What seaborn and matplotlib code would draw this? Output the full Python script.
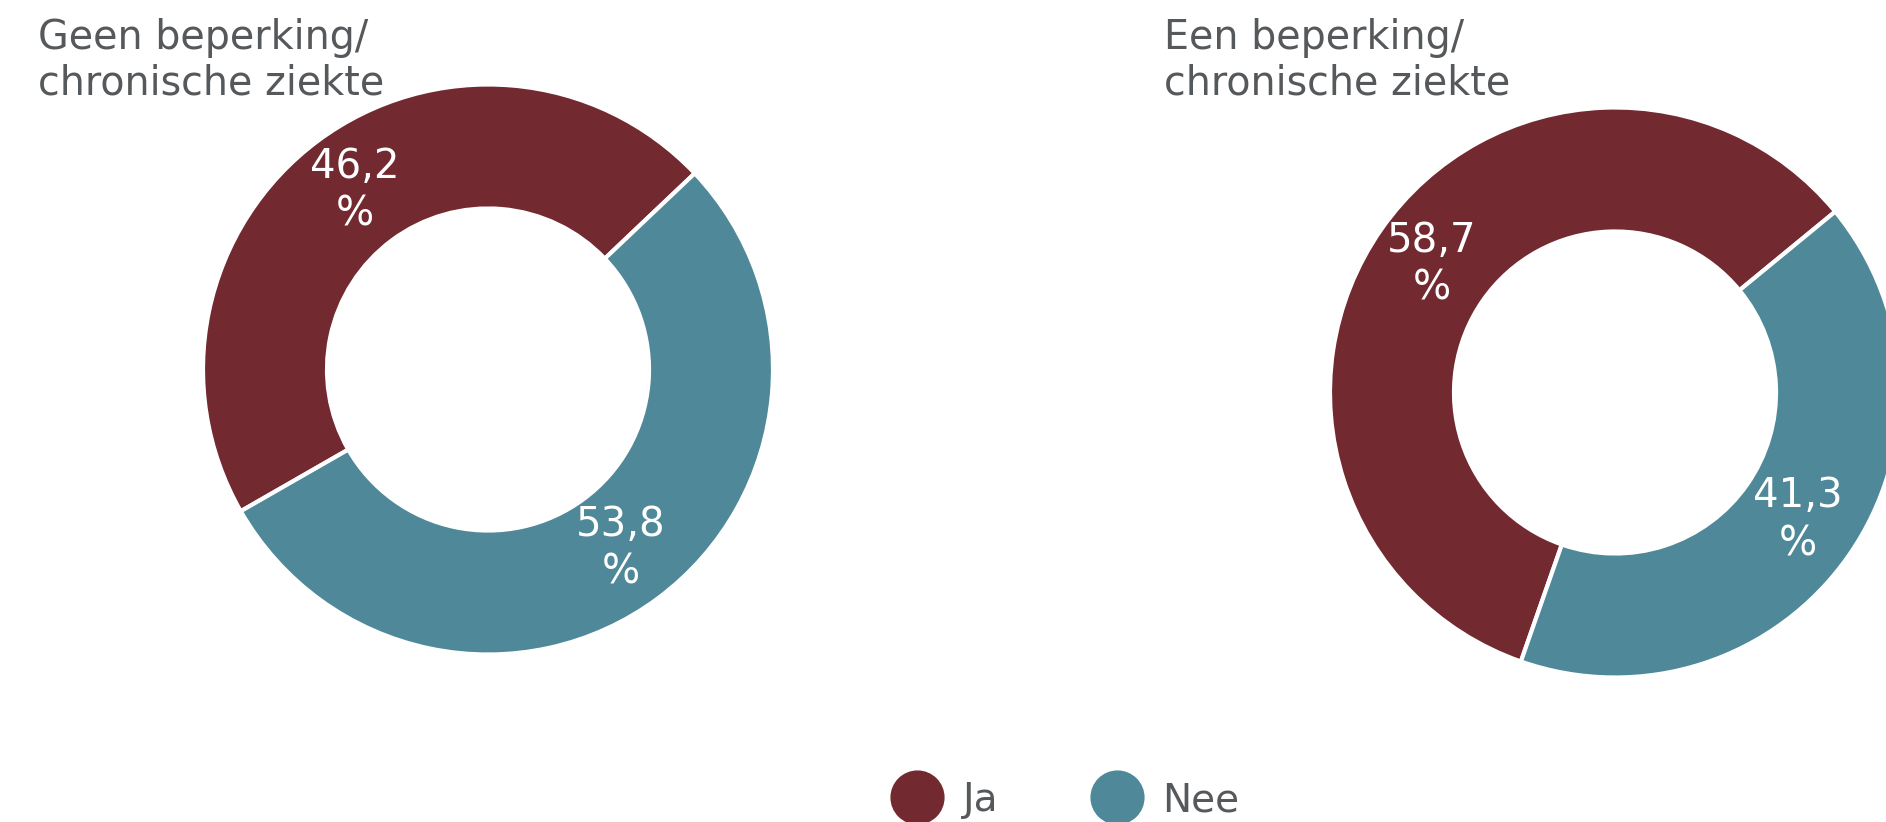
import matplotlib
matplotlib.use("Agg")
import matplotlib.pyplot as plt
from matplotlib.lines import Line2D
import seaborn as sns

# Share of respondents answering "Ja" / "Nee", per group
groups = ["Geen beperking/\nchronische ziekte", "Een beperking/\nchronische ziekte"]
answers = ["Ja", "Nee"]
ja_pct = [46.2, 58.7]
nee_pct = [53.8, 41.3]
colors = ["#72292F", "#4F8898"]
text_grey = "#56595b"

sns.set_theme(style="white")
plt.rcParams["font.family"] = ["DejaVu Sans"]

W, H = 1886, 822
fig = plt.figure(figsize=(W / 100, H / 100), dpi=100)
fig.patch.set_facecolor("white")
ax = fig.add_axes([0, 0, 1, 1])

R = 285
hole = 0.565
centers = [(488, H - 369.5), (1615, H - 392.5)]
starts = [43.5, 39.4]
title_x = [38, 1164]
title_top = H - 18


def pct_label(p):
    return f"{p:.1f}".replace(".", ",") + "\n%"


for i in range(2):
    ax.pie(
        [ja_pct[i], nee_pct[i]],
        colors=colors,
        center=centers[i],
        radius=R,
        startangle=starts[i],
        counterclock=True,
        autopct=pct_label,
        pctdistance=(1 + hole) / 2,
        wedgeprops=dict(width=R * (1 - hole), edgecolor="white", linewidth=3),
        textprops=dict(color="white", fontsize=29, linespacing=1.25),
    )
    ax.text(title_x[i], title_top, groups[i], fontsize=28.5,
            color=text_grey, ha="left", va="top", linespacing=1.17)

ax.set_xlim(0, W)
ax.set_ylim(0, H)
ax.set_aspect("auto")
ax.axis("off")

handles = [Line2D([], [], marker="o", linestyle="none", markersize=38,
                  markerfacecolor=c, markeredgecolor=c) for c in colors]
fig.legend(handles, answers, loc="center left",
           bbox_to_anchor=(889.5 / W, 22 / H), ncol=2, frameon=False,
           fontsize=28, handlelength=1.4, handletextpad=0.48,
           columnspacing=2.35, borderpad=0, borderaxespad=0,
           labelcolor=text_grey)

fig.savefig("out.png", dpi=100, facecolor="white")
